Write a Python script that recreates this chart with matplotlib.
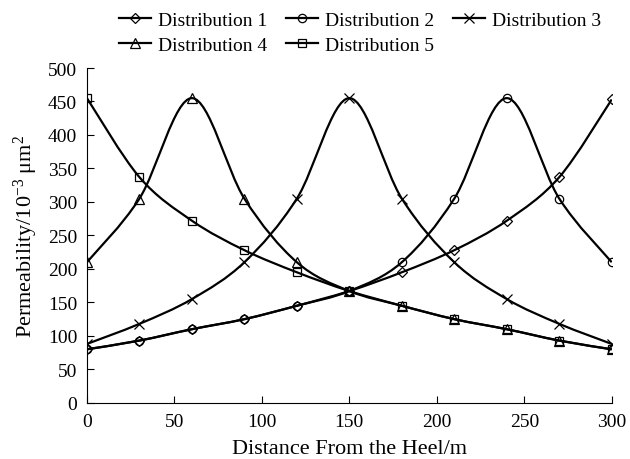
import numpy as np
import matplotlib.pyplot as plt
from matplotlib.path import Path
from matplotlib.patches import PathPatch
from matplotlib.lines import Line2D

plt.rcParams['font.family'] = ['Liberation Serif', 'DejaVu Serif']
plt.rcParams['mathtext.fontset'] = 'custom'
plt.rcParams['mathtext.rm'] = 'Liberation Serif'
plt.rcParams['mathtext.it'] = 'Liberation Serif:italic'

# data
distance = [0, 30, 60, 90, 120, 150, 180, 210, 240, 270, 300]
dist1 = [80, 93, 110, 125, 145, 167, 195, 228, 272, 337, 453]
dist2 = [80, 93, 110, 125, 145, 167, 210, 305, 455, 305, 210]
dist3 = [88, 118, 155, 210, 305, 455, 305, 210, 155, 118, 88]
dist4 = [210, 305, 455, 305, 210, 167, 145, 125, 110, 93, 80]
dist5 = [455, 337, 272, 228, 195, 167, 145, 125, 110, 93, 80]

labels = ['Distribution 1', 'Distribution 2', 'Distribution 3',
          'Distribution 4', 'Distribution 5']
series = [dist1, dist2, dist3, dist4, dist5]
markers = ['D', 'o', 'x', '^', 's']
msizes = [5, 6, 7, 7, 6]


def smooth_path(x, y):
    # Catmull-Rom curve drawn as cubic Bezier segments through the data points
    pts = np.column_stack([x, y]).astype(float)
    ext = np.vstack([pts[0], pts, pts[-1]])
    verts = [pts[0]]
    codes = [Path.MOVETO]
    for i in range(1, len(ext) - 2):
        p0, p1, p2, p3 = ext[i - 1], ext[i], ext[i + 1], ext[i + 2]
        verts += [p1 + (p2 - p0) / 6, p2 - (p3 - p1) / 6, p2]
        codes += [Path.CURVE4] * 3
    return Path(verts, codes)


fig = plt.figure(figsize=(6.3, 4.6), dpi=100)
ax = fig.add_axes([0.138, 0.122, 0.833, 0.728])

handles = []
for y, lab, m, ms in zip(series, labels, markers, msizes):
    ax.add_patch(PathPatch(smooth_path(distance, y), fill=False,
                           edgecolor='black', lw=1.6))
    ax.plot(distance, y, ls='none', marker=m, ms=ms, mfc='none',
            mec='black', mew=0.9)
    handles.append(Line2D([], [], color='black', lw=1.6, marker=m, ms=ms,
                          mfc='none', mec='black', mew=0.9, label=lab))

ax.set_xlim(0, 300)
ax.set_ylim(0, 500)
ax.set_xticks(range(0, 301, 50))
ax.set_yticks(range(0, 501, 50))
ax.spines['top'].set_visible(False)
ax.spines['right'].set_visible(False)
ax.tick_params(direction='in', length=5, labelsize=14)
ax.tick_params(axis='x', pad=7)
ax.tick_params(axis='y', pad=7)
ax.set_xlabel('Distance From the Heel/m', fontsize=16, labelpad=7)
ax.set_ylabel(r'Permeability/10$^{-3}$ $\mathrm{\mu m}^{2}$', fontsize=16,
              labelpad=6)

order = [0, 3, 1, 4, 2]
fig.legend([handles[i] for i in order], [labels[i] for i in order],
           ncol=3, frameon=False, fontsize=14, loc='upper left',
           bbox_to_anchor=(119 / 630, 1 - 12 / 460), borderpad=0,
           borderaxespad=0, handlelength=1.65, columnspacing=0.95,
           handletextpad=0.36, labelspacing=0.4)

fig.savefig('out.png', dpi=100)
